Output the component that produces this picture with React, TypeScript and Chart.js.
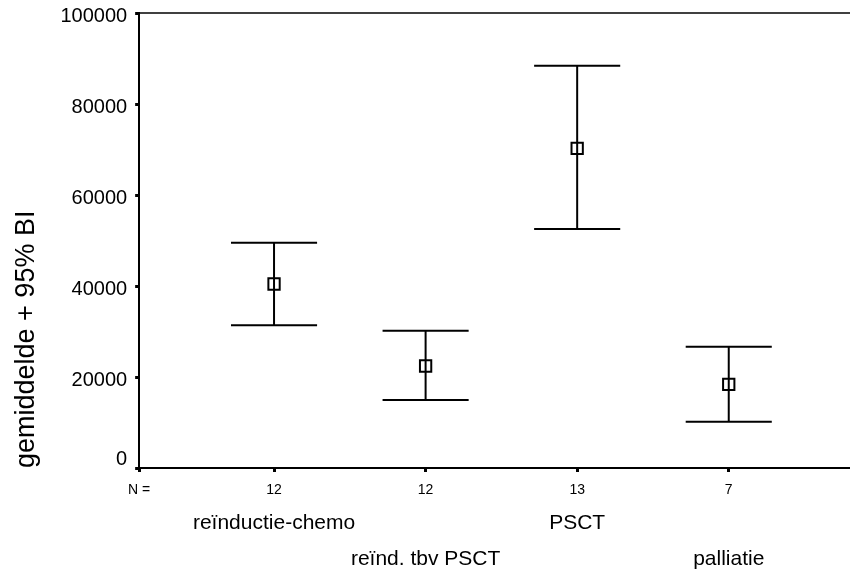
import React, { useEffect, useRef } from "react";
import { Chart, registerables } from "chart.js";

Chart.register(...registerables);

// ---- data ----
const CATEGORIES = ["reïnductie-chemo", "reïnd. tbv PSCT", "PSCT", "palliatie"];
const N_COUNTS = ["12", "12", "13", "7"];
const N_PREFIX = "N =";
const MEANS = [40440, 22420, 70260, 18400];
const UPPER = [49520, 30180, 88420, 26660];
const LOWER = [31360, 14950, 52530, 10180];
const Y_TICKS = [0, 20000, 40000, 60000, 80000, 100000];
const Y_TITLE = "gemiddelde + 95% BI";

// ---- styling constants ----
const FONT = "'Liberation Sans', Arial, sans-serif";
const X_MIN = 0.11;
const X_MAX = 4.8;
const CAP_HALF = 0.284;

const zeroPad = (s: any) => {
  s.paddingLeft = 0;
  s.paddingRight = 0;
  s.paddingTop = 0;
  s.paddingBottom = 0;
};

const frameTop = {
  id: "frameTop",
  afterDraw(chart: any) {
    const { ctx, chartArea } = chart;
    ctx.save();
    ctx.strokeStyle = "#000";
    ctx.lineWidth = 1.5;
    ctx.beginPath();
    ctx.moveTo(chartArea.left, chartArea.top);
    ctx.lineTo(chartArea.right, chartArea.top);
    ctx.stroke();
    ctx.restore();
  },
};

export default function App() {
  const ref = useRef<HTMLCanvasElement | null>(null);

  useEffect(() => {
    if (!ref.current) return;

    const errorPts: any[] = [];
    CATEGORIES.forEach((_, i) => {
      const x = i + 1;
      errorPts.push(
        { x: x - CAP_HALF, y: UPPER[i] },
        { x: x + CAP_HALF, y: UPPER[i] },
        { x, y: null },
        { x, y: UPPER[i] },
        { x, y: LOWER[i] },
        { x, y: null },
        { x: x - CAP_HALF, y: LOWER[i] },
        { x: x + CAP_HALF, y: LOWER[i] },
        { x, y: null }
      );
    });

    const chart = new Chart(ref.current, {
      type: "scatter",
      data: {
        datasets: [
          {
            type: "line",
            data: errorPts,
            borderColor: "#000",
            borderWidth: 2,
            pointRadius: 0,
            spanGaps: false,
            tension: 0,
            fill: false,
          } as any,
          {
            type: "scatter",
            data: MEANS.map((m, i) => ({ x: i + 1, y: m })),
            pointStyle: "rect",
            pointRadius: 8,
            borderWidth: 2,
            borderColor: "#000",
            backgroundColor: "rgba(0,0,0,0)",
          } as any,
        ],
      },
      options: {
        animation: false,
        responsive: false,
        events: [],
        layout: { autoPadding: false, padding: { left: 6, top: 13, right: 0, bottom: -4 } },
        plugins: { legend: { display: false }, tooltip: { enabled: false } },
        scales: {
          x: {
            type: "linear",
            position: "bottom",
            min: X_MIN,
            max: X_MAX,
            afterBuildTicks: (s: any) => {
              s.ticks = [X_MIN, 1, 2, 3, 4].map((v) => ({ value: v }));
            },
            afterFit: zeroPad,
            ticks: {
              autoSkip: false,
              maxRotation: 0,
              padding: 9.6,
              color: "#000",
              font: { family: FONT, size: 14, lineHeight: 1.2 },
              callback: (_v: any, idx: number) => (idx === 0 ? N_PREFIX : N_COUNTS[idx - 1]),
            },
            grid: {
              display: true,
              drawOnChartArea: false,
              drawTicks: true,
              tickLength: 4,
              tickWidth: 3,
              tickColor: "#000",
              color: "#000",
            },
            border: { display: true, color: "#000", width: 2 },
          },
          xcat: {
            type: "linear",
            position: "bottom",
            min: X_MIN,
            max: X_MAX,
            afterBuildTicks: (s: any) => {
              s.ticks = CATEGORIES.map((_, i) => ({ value: i + 1 }));
            },
            afterFit: zeroPad,
            ticks: {
              autoSkip: false,
              maxRotation: 0,
              padding: -2.5,
              color: "#000",
              font: { family: FONT, size: 21, lineHeight: 1.714 },
              callback: (_v: any, idx: number) =>
                idx % 2 === 0 ? CATEGORIES[idx] : ["", CATEGORIES[idx]],
            },
            grid: { display: false, drawTicks: false },
            border: { display: false },
          },
          y: {
            type: "linear",
            min: 0,
            max: 100000,
            afterBuildTicks: (s: any) => {
              s.ticks = Y_TICKS.map((v) => ({ value: v }));
            },
            afterFit: zeroPad,
            ticks: {
              padding: 8,
              color: "#000",
              font: (ctx: any) => ({
                family: FONT,
                size: 20,
                lineHeight: ctx.tick && ctx.tick.value === 0 ? 18 / 20 : 6 / 20,
              }),
              callback: (v: any) => (v === 0 ? [String(v), ""] : ["", String(v)]),
            },
            grid: {
              display: true,
              drawOnChartArea: false,
              drawTicks: true,
              tickLength: 4,
              tickWidth: 3,
              tickColor: "#000",
              color: "#000",
            },
            border: { display: true, color: "#000", width: 2 },
            title: {
              display: true,
              text: Y_TITLE,
              align: "start",
              color: "#000",
              font: { family: FONT, size: 27, lineHeight: 1.2 },
              padding: { top: 4, bottom: 10 },
            },
          },
        },
      },
      plugins: [frameTop],
    } as any);

    return () => chart.destroy();
  }, []);

  return (
    <div style={{ position: "fixed", left: 0, top: 0, width: 850, height: 571, background: "#fff" }}>
      <canvas ref={ref} width={850} height={571} style={{ display: "block" }} />
    </div>
  );
}
